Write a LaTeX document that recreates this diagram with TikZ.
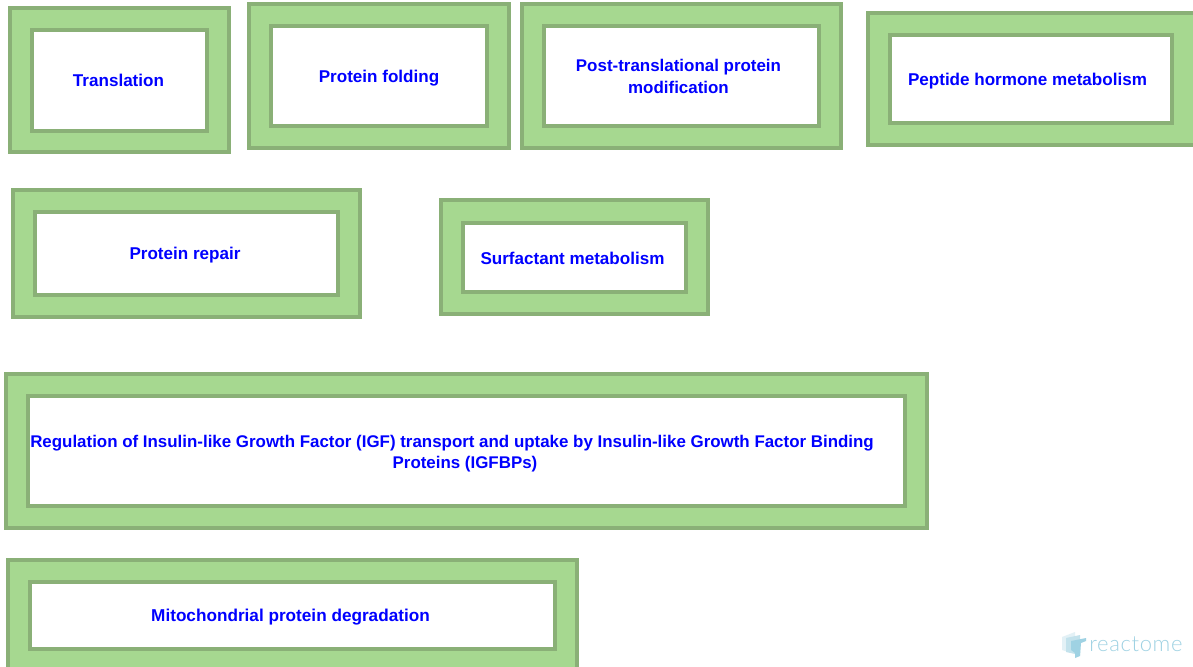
\documentclass[tikz,border=0pt]{standalone}
\usepackage{fontspec}
\setmainfont{Liberation Sans}
\newfontfamily\logofont{Lato Light}
\definecolor{procfill}{HTML}{A6D890}
\definecolor{procline}{HTML}{8AB077}
\definecolor{proctext}{HTML}{0000FF}
\definecolor{logoa}{HTML}{E3F1F6}
\definecolor{logob}{HTML}{C3E2EC}
\definecolor{logoc}{HTML}{9FD2E3}
\tikzset{
  x=0.75pt,y=-0.75pt,
  outerbox/.style={draw=procline,fill=procfill,line width=3pt,inner sep=0pt,outer sep=0pt,anchor=north west},
  innerbox/.style={draw=procline,fill=white,line width=3pt,inner sep=0pt,outer sep=0pt,anchor=north west},
  proclabel/.style={text=proctext,font=\bfseries\fontsize{12.8pt}{16.3pt}\selectfont,align=center,inner sep=0pt},
  linelabel/.style={proclabel,anchor=base}
}
% name, outer x0,y0,x1,y1 and inner x0,y0,x1,y1 (stroke centre lines, px)
\newcommand{\procbox}[9]{%
  \node[outerbox,minimum width=\the\dimexpr(#4pt-#2pt)*3/4\relax,minimum height=\the\dimexpr(#5pt-#3pt)*3/4\relax] (#1o) at (#2,#3) {};
  \node[innerbox,minimum width=\the\dimexpr(#8pt-#6pt)*3/4\relax,minimum height=\the\dimexpr(#9pt-#7pt)*3/4\relax] (#1i) at (#6,#7) {};
}
\begin{document}
\begin{tikzpicture}
\useasboundingbox (0,0) rectangle (1193,667);
\fill[white] (0,0) rectangle (1193,667);
\procbox{a}{10}{8}{229}{152}{32}{30}{207}{131}
\procbox{b}{249}{4}{509}{148}{271}{26}{487}{126}
\procbox{c}{522}{4}{841}{148}{544}{26}{819}{126}
\procbox{d}{868}{13}{1195}{145}{890}{35}{1172}{123}
\procbox{e}{13}{190}{360}{317}{35}{212}{338}{295}
\procbox{f}{441}{200}{708}{314}{463}{223}{686}{292}
\procbox{g}{6}{374}{927}{528}{28}{396}{905}{506}
\procbox{h}{8}{560}{577}{672}{30}{582}{555}{649}
\node[linelabel] (ta) at (118.5,87) {Translation};
\node[linelabel] (tb) at (379,82.5) {Protein folding};
\node[proclabel,font=\bfseries\fontsize{12.7pt}{16.3pt}\selectfont] (tc) at (678.5,76.5) {Post-translational protein\\modification};
\node[linelabel] (td) at (1027.5,85.5) {Peptide hormone metabolism};
\node[linelabel] (te) at (185,259.5) {Protein repair};
\node[linelabel] (tf) at (572.5,264.5) {Surfactant metabolism};
\node[proclabel,font=\bfseries\fontsize{12.68pt}{16.3pt}\selectfont] (tg) at (465,453.5) {Regulation of Insulin-like Growth Factor (IGF) transport and uptake by Insulin-like Growth Factor Binding\hspace*{19.5pt}\\Proteins (IGFBPs)};
\node[linelabel,font=\bfseries\fontsize{12.88pt}{16.3pt}\selectfont] (th) at (290.5,621.5) {Mitochondrial protein degradation};
% logo
\fill[logoa] (1062,637) -- (1075,632) -- (1075,654) -- (1062,650) -- cycle;
\fill[logob] (1066,638) -- (1080,635) -- (1080,655) -- (1066,652) -- cycle;
\fill[logoc] (1071,641) -- (1086,638) -- (1086,641) -- (1081,643) -- (1080,656) -- (1075,658) -- (1075,653) -- (1071,650) -- cycle;
\node[text=logoc,font=\logofont\fontsize{16.5pt}{18pt}\selectfont,anchor=base west,inner sep=0pt] (logo) at (1089,651) {\addfontfeatures{LetterSpace=3}reactome};
\end{tikzpicture}
\end{document}
